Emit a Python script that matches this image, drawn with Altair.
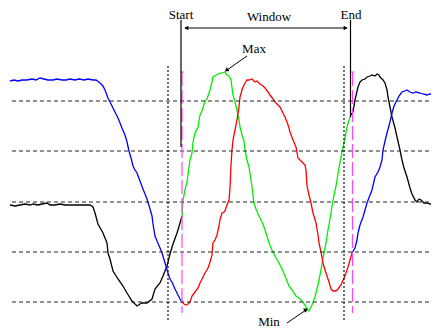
import altair as alt
import pandas as pd

# ---- signal traces (time in samples, amplitude in mV) ----
black1_t = [10,15,20,25,30,33,38,42,47,50,55,60,65,70,75,80,85,90,93,95,98,103,107,108,110,113,118,123,127,132,137,140,142,147,152,155,160,163,167,170,173,177,180,182]
black1_v = [-3,-4,-3,-2,-3,-2,-3,-2,-1,-3,-3,-2,-3,-3,-3,-3,-3,-3,-5,-11,-22,-31,-41,-51,-57,-69,-77,-84,-91,-99,-104,-102,-101,-101,-97,-87,-81,-74,-64,-52,-42,-31,-21,-14]

green_t = [182,183,185,187,190,192,193,195,198,200,202,205,207,210,212,213,216,218,222,225,227,229,231,233,235,237,239,240,242,244,245,247,249,251,252,254,256,259,262,264,267,269,272,276,279,282,285,289,292,296,299,302,305,307,309,312,315,318,321,323,326,328,331,333,336,339,342,345,347,349,351]
green_v = [-14,2,12,20,42,49,60,69,75,87,91,101,103,112,120,125,127,128,129,130,127,126,122,107,100,92,82,75,67,61,52,42,35,22,15,-1,-7,-14,-20,-25,-34,-41,-48,-56,-61,-67,-74,-84,-88,-94,-96,-99,-103,-107,-109,-103,-95,-83,-68,-56,-41,-28,-11,2,16,34,50,64,75,82,87]

black2_t = [351,353,355,358,360,362,365,367,370,372,375,377,379,380,383,385,387,388,390,392,395,397,400,402,404,407,410,412,415,417,419,421,424,427,430,434,439]
black2_v = [87,90,102,115,120,122,123,125,126,127,126,128,127,125,122,119,112,105,95,85,74,65,52,42,34,25,14,8,2,0,3,2,-1,-1,-2,-1,-2]

blue1_t = [10,14,18,22,27,32,36,40,44,48,53,57,62,66,70,75,79,84,88,93,96,100,103,105,108,110,113,115,118,120,122,125,127,129,131,133,135,137,140,143,145,147,150,152,153,155,157,160,162,165,168,170,172,175,177,180,182]
blue1_v = [121,122,121,122,122,123,122,124,123,122,122,123,122,122,123,122,123,122,123,122,122,119,116,112,104,100,94,90,84,79,74,67,60,51,44,36,32,29,21,13,8,3,-7,-14,-22,-34,-39,-46,-51,-61,-71,-77,-80,-87,-91,-97,-100]

red_t = [182,184,186,188,190,192,195,198,200,203,205,208,210,212,213,215,217,219,220,222,224,225,227,229,230,231,232,233,235,237,239,240,242,243,245,247,249,252,254,255,257,260,263,265,268,270,273,275,278,280,283,285,287,289,290,293,296,298,301,305,306,307,309,311,313,316,318,319,321,323,325,327,329,331,333,336,338,341,344,346,348,350,352]
red_v = [-100,-102,-103,-102,-100,-94,-90,-86,-81,-75,-71,-66,-60,-53,-41,-38,-33,-24,-18,-11,-10,-9,-3,2,14,37,52,62,72,82,95,105,112,115,119,122,122,123,121,120,121,118,116,114,110,107,103,100,97,95,89,85,80,74,70,62,55,44,41,37,32,16,7,-1,-11,-21,-33,-41,-50,-61,-68,-74,-80,-87,-89,-89,-87,-83,-76,-71,-65,-58,-51]

blue2_t = [352,355,357,358,360,363,365,367,370,372,375,378,380,382,383,385,387,390,392,394,397,399,402,405,407,410,413,416,420,423,427,430,433,436,439]
blue2_v = [-51,-46,-38,-31,-23,-15,-8,-1,7,12,25,30,35,42,52,61,69,80,89,96,102,106,110,111,112,110,109,110,109,108,107,108,108,107,107]

segments = [
    ("s1", "#000000", black1_t, black1_v),
    ("s2", "#00ee00", green_t, green_v),
    ("s3", "#000000", black2_t, black2_v),
    ("s4", "#0000ff", blue1_t, blue1_v),
    ("s5", "#ff0000", red_t, red_v),
    ("s6", "#0000ff", blue2_t, blue2_v),
]

# ---- reference levels and markers ----
levels = [101, 51, 0, -50, -100]
dotted_t = [168, 344]
magenta_t = [182, 352.5]
window_start = 181
window_end = 350.5

rows = []
for seg, col, ts, vs in segments:
    for i, (t, v) in enumerate(zip(ts, vs)):
        rows.append({"seg": seg, "col": col, "t": t, "v": v, "i": i})
df = pd.DataFrame(rows)

X = alt.Scale(domain=[8, 431])
Y = alt.Scale(domain=[-126, 194])


def xq(f="t"):
    return alt.X(f + ":Q", scale=X, axis=None)


def yq(f="v"):
    return alt.Y(f + ":Q", scale=Y, axis=None)


lines = alt.Chart(df).mark_line(strokeWidth=1.3).encode(
    x=xq(), y=yq(),
    color=alt.Color("col:N", scale=None),
    detail="seg:N",
    order="i:Q",
)

hdash = alt.Chart(pd.DataFrame({"v": levels, "a": [12] * 5, "b": [439] * 5})).mark_rule(
    color="#222222", strokeWidth=1, strokeDash=[4, 3]
).encode(y=yq(), x=xq("a"), x2="b:Q")

vdot = alt.Chart(pd.DataFrame({"t": dotted_t, "top": [136, 136], "bot": [-118, -118]})).mark_rule(
    color="#111111", strokeWidth=1.2, strokeDash=[2, 2]
).encode(x=xq(), y=yq("top"), y2="bot:Q")

magenta = alt.Chart(pd.DataFrame({"t": magenta_t, "top": [130, 130], "bot": [-111, -111]})).mark_rule(
    color="#ff44ff", strokeWidth=1.2, strokeDash=[14, 4]
).encode(x=xq(), y=yq("top"), y2="bot:Q")

mticks = alt.Chart(pd.DataFrame({"t": [180, 350.5], "t2": [184, 354.5], "v": [130, 130]})).mark_rule(
    color="#ff44ff", strokeWidth=1
).encode(x=xq(), x2="t2:Q", y=yq())

startend = alt.Chart(pd.DataFrame({"t": [window_start, window_end], "top": [182, 182], "bot": [55, 85]})).mark_rule(
    color="black", strokeWidth=1.2
).encode(x=xq(), y=yq("top"), y2="bot:Q")

window = alt.Chart(pd.DataFrame({"a": [185], "b": [347], "v": [174]})).mark_rule(
    color="black", strokeWidth=1
).encode(x=xq("a"), x2="b:Q", y=yq())

heads = alt.Chart(pd.DataFrame({
    "t": [187, 345, 227, 305.5],
    "v": [174, 174, 132, -108],
    "ang": [270, 90, 234, 55],
})).mark_point(shape="triangle", filled=True, size=22, color="black", opacity=1).encode(
    x=xq(), y=yq(), angle=alt.Angle("ang:Q", scale=None)
)

pointers = alt.Chart(pd.DataFrame({
    "t": [247, 287], "v": [146, -121], "t2": [227, 306], "v2": [132, -108]
})).mark_rule(color="black", strokeWidth=1).encode(
    x=xq(), y=yq(), x2="t2:Q", y2="v2:Q"
)

labels = alt.Chart(pd.DataFrame({
    "text": ["Start", "End", "Window", "Max", "Min"],
    "t": [181, 351, 269, 254, 269],
    "v": [183.5, 183.5, 181, 149, -123.5],
})).mark_text(font="Liberation Serif", fontSize=13, baseline="alphabetic", align="center", color="black").encode(
    x=xq(), y=yq(), text="text:N"
)

chart = alt.layer(lines, hdash, vdot, magenta, mticks, startend, window, pointers, heads, labels).properties(
    width=423, height=320, padding=0,
    autosize=alt.AutoSizeParams(type="none"),
    background="white",
).configure_view(stroke=None)

chart.save("out.html", embed_options={"renderer": "svg", "actions": False})
